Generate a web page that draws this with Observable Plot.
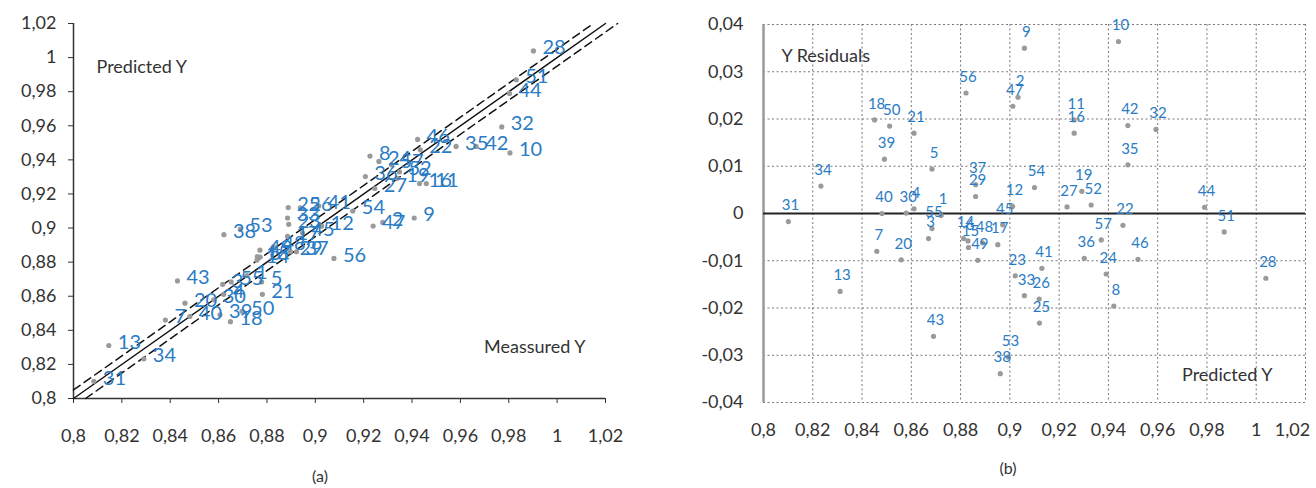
<!DOCTYPE html>
<html><head><meta charset="utf-8">
<script src="https://cdn.jsdelivr.net/npm/d3@7"></script>
<script src="https://cdn.jsdelivr.net/npm/@observablehq/plot@0.6"></script>
<style>
body{margin:0;background:#fff;font-family:Lato,"Open Sans",sans-serif;}
#wrap{position:relative;width:1316px;height:488px;overflow:hidden;background:#fff;}
#a{position:absolute;left:0;top:0;width:650px;height:450px;}
#b{position:absolute;left:660px;top:0;width:656px;height:450px;}
.cap{position:absolute;font-size:16px;color:#333;transform:translateX(-50%);font-family:Lato,sans-serif;}
svg{overflow:visible;}
</style></head><body>
<div id="wrap"><div id="a"></div><div id="b"></div>
<div class="cap" style="left:320px;top:466px">(a)</div>
<div class="cap" style="left:1008px;top:458px">(b)</div></div>
<script>
const ids = [1,2,3,4,5,6,7,8,9,10,11,12,13,14,15,16,17,18,19,20,21,22,23,24,25,26,27,28,29,30,31,32,33,34,35,36,37,38,39,40,41,42,43,44,45,46,47,48,49,50,51,52,53,54,55,56,57];
const predicted = [0.8721,0.9033,0.8670,0.8611,0.8684,0.8830,0.8460,0.9422,0.9059,0.9441,0.9261,0.9011,0.8311,0.8812,0.8832,0.9261,0.8951,0.8451,0.9292,0.8559,0.8611,0.9459,0.9022,0.9391,0.9120,0.9119,0.9232,1.0039,0.8861,0.8579,0.8101,0.9593,0.9059,0.8233,0.9479,0.9302,0.8861,0.8961,0.8491,0.8481,0.9130,0.9479,0.8690,0.9790,0.8971,0.9520,0.9012,0.8889,0.8870,0.8512,0.9870,0.9330,0.8994,0.9100,0.8684,0.8822,0.9371];
const residual = [-0.0004,0.0246,-0.0053,0.0010,0.0094,-0.0058,-0.0080,-0.0196,0.0350,0.0364,0.0198,0.0015,-0.0165,-0.0053,-0.0072,0.0170,-0.0066,0.0198,0.0047,-0.0098,0.0170,-0.0025,-0.0132,-0.0128,-0.0232,-0.0181,0.0014,-0.0137,0.0036,0.0001,-0.0017,0.0178,-0.0174,0.0058,0.0103,-0.0095,0.0061,-0.0339,0.0115,0.0000,-0.0116,0.0186,-0.0260,0.0013,-0.0024,-0.0097,0.0227,-0.0062,-0.0099,0.0185,-0.0039,0.0018,-0.0304,0.0055,-0.0032,0.0255,-0.0056];
const measured = [0.8717,0.9279,0.8617,0.8621,0.8778,0.8772,0.8380,0.9226,0.9409,0.9805,0.9459,0.9026,0.8146,0.8759,0.8760,0.9431,0.8885,0.8649,0.9339,0.8461,0.8781,0.9434,0.8890,0.9263,0.8888,0.8938,0.9246,0.9902,0.8897,0.8580,0.8084,0.9771,0.8885,0.8291,0.9582,0.9207,0.8922,0.8622,0.8606,0.8481,0.9014,0.9665,0.8430,0.9803,0.8947,0.9423,0.9239,0.8827,0.8771,0.8697,0.9831,0.9348,0.8690,0.9155,0.8652,0.9077,0.9315];
const xTicks = [0.8,0.82,0.84,0.86,0.88,0.9,0.92,0.94,0.96,0.98,1,1.02];
const yTicksB = [-0.04,-0.03,-0.02,-0.01,0,0.01,0.02,0.03,0.04];
const diagonal = [0.8, 1.02];
const bandOffset = 0.005;
const upperBand = [0.8, 1.015];
const lowerBand = [0.805, 1.025];

const rows = ids.map((id,i)=>({id:String(id), m:measured[i], p:predicted[i], r:residual[i]}));
const fmt = d => String(+(+d).toFixed(2)).replace(".", ",");
const fmtR = d => d === 0 ? "0" : (+d).toFixed(2).replace(".", ",");
const BLUE = "#2a7cc4", DOT = "#9a9a9a", TXT = "#333";

const plotA = Plot.plot({
  width: 650, height: 450,
  marginLeft: 73, marginRight: 45, marginTop: 23, marginBottom: 52,
  x: {domain: [0.8, 1.02]},
  y: {domain: [0.8, 1.02]},
  style: {fontFamily: "Lato, sans-serif", fontSize: "18px", color: TXT, background: "transparent", overflow: "visible"},
  marks: [
    Plot.axisX(xTicks, {tickSize: 5, tickPadding: 26, tickFormat: fmt, fontSize: 18, label: null, stroke: TXT}),
    Plot.axisY(xTicks, {tickSize: 5, tickPadding: 12, tickFormat: fmt, fontSize: 18, label: null, stroke: TXT}),
    Plot.ruleX([0.8], {stroke: "#333", strokeWidth: 1.5}),
    Plot.ruleY([0.8], {stroke: "#333", strokeWidth: 1.5}),
    Plot.line(diagonal, {x: d => d, y: d => d, stroke: "#111", strokeWidth: 1.5}),
    Plot.line(upperBand, {x: d => d, y: d => d + bandOffset, stroke: "#111", strokeWidth: 1.5, strokeDasharray: "8,5"}),
    Plot.line(lowerBand, {x: d => d, y: d => d - bandOffset, stroke: "#111", strokeWidth: 1.5, strokeDasharray: "8,5"}),
    Plot.dot(rows, {x: "m", y: "p", r: 2.6, fill: DOT, stroke: "none"}),
    Plot.text(rows, {x: "m", y: "p", text: "id", fill: BLUE, fontSize: 20, textAnchor: "start", dx: 9, dy: -3}),
    Plot.text(["Predicted Y"], {frameAnchor: "top-left", dx: 23, dy: 37, textAnchor: "start", fontSize: 18, fill: TXT}),
    Plot.text(["Meassured Y"], {frameAnchor: "bottom-right", dx: -20, dy: -46, textAnchor: "end", fontSize: 18, fill: TXT})
  ]
});
document.getElementById("a").appendChild(plotA);

const plotB = Plot.plot({
  width: 656, height: 450,
  marginLeft: 103, marginRight: 11, marginTop: 24, marginBottom: 48,
  x: {domain: [0.8, 1.02]},
  y: {domain: [-0.04, 0.04]},
  style: {fontFamily: "Lato, sans-serif", fontSize: "18px", color: TXT, background: "transparent", overflow: "visible"},
  marks: [
    Plot.gridX(xTicks, {stroke: "#777", strokeOpacity: 1, strokeDasharray: "2,2.5", strokeWidth: 1}),
    Plot.gridY(yTicksB, {stroke: "#777", strokeOpacity: 1, strokeDasharray: "2,2.5", strokeWidth: 1}),
    Plot.ruleX([0.8], {stroke: "#9a9a9a", strokeWidth: 2.5}),
    Plot.ruleY([0], {stroke: "#222", strokeWidth: 2}),
    Plot.axisX(xTicks.slice(0, -1), {tickSize: 0, tickPadding: 21, tickFormat: fmt, fontSize: 18, label: null}),
    Plot.axisX(xTicks.slice(-1), {tickSize: 0, tickPadding: 21, tickFormat: fmt, fontSize: 18, label: null, dx: -13}),
    Plot.axisY(yTicksB, {tickSize: 0, tickPadding: 20, tickFormat: fmtR, fontSize: 18, label: null}),
    Plot.dot(rows, {x: "p", y: "r", r: 2.6, fill: DOT, stroke: "none"}),
    Plot.text(rows, {x: "p", y: "r", text: "id", fill: BLUE, fontSize: 15, dx: 2, dy: -16}),
    Plot.text(["Y Residuals"], {frameAnchor: "top-left", dx: 18, dy: 25, textAnchor: "start", fontSize: 18, fill: TXT}),
    Plot.text(["Predicted Y"], {frameAnchor: "bottom-right", dx: -33, dy: -22, textAnchor: "end", fontSize: 18, fill: TXT})
  ]
});
document.getElementById("b").appendChild(plotB);
</script>
</body></html>
